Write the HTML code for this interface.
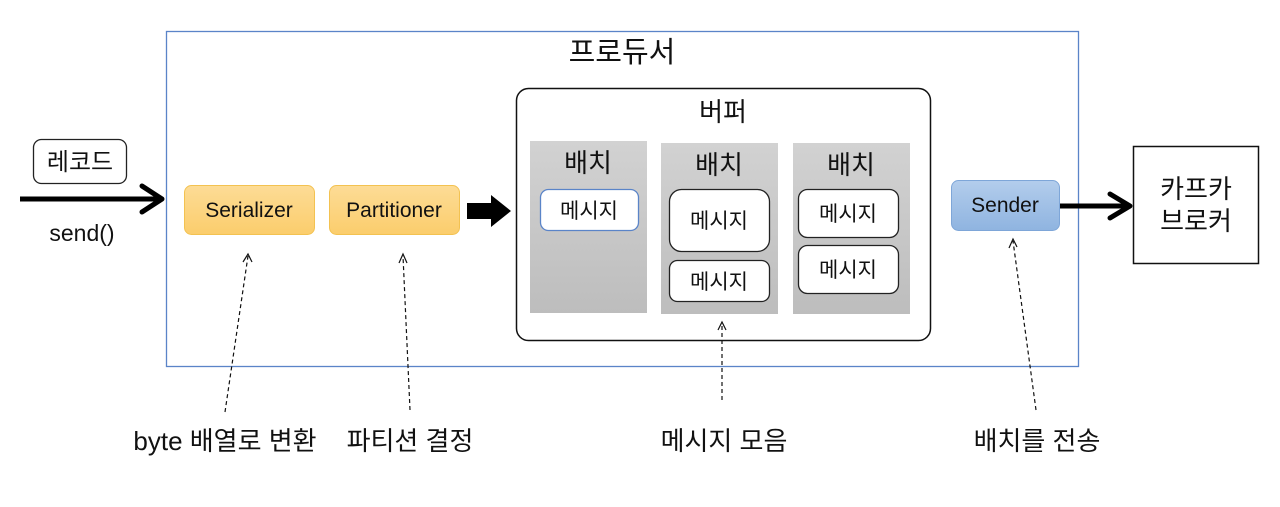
<!DOCTYPE html>
<html><head><meta charset="utf-8"><style>
html,body{margin:0;padding:0;background:#fff;width:1280px;height:507px;overflow:hidden}
text{font-family:"Liberation Sans","Noto Sans CJK KR",sans-serif;fill:#111}
</style></head><body>
<svg width="1280" height="507" viewBox="0 0 1280 507" xmlns="http://www.w3.org/2000/svg">
<defs>
<linearGradient id="yel" x1="0" y1="0" x2="0" y2="1"><stop offset="0" stop-color="#fddc96"/><stop offset="1" stop-color="#fbcd6c"/></linearGradient>
<linearGradient id="blu" x1="0" y1="0" x2="0" y2="1"><stop offset="0" stop-color="#b3cdec"/><stop offset="1" stop-color="#8fb4e0"/></linearGradient>
<linearGradient id="gry" x1="0" y1="0" x2="0" y2="1"><stop offset="0" stop-color="#d2d2d2"/><stop offset="1" stop-color="#bdbdbd"/></linearGradient>
</defs>
<rect x="166.5" y="31.5" width="912" height="335" fill="none" stroke="#5a84c8" stroke-width="1.3"/>
<text x="622" y="62" font-size="29" text-anchor="middle">프로듀서</text>

<rect x="33.5" y="139.5" width="93" height="44" rx="8" fill="#fff" stroke="#222" stroke-width="1.3"/>
<text x="80" y="170" font-size="24" text-anchor="middle">레코드</text>
<line x1="20" y1="199" x2="160" y2="199" stroke="#000" stroke-width="5"/>
<polyline points="142,186 162,199 142,212" fill="none" stroke="#000" stroke-width="5" stroke-linecap="round" stroke-linejoin="round"/>
<text x="82" y="241" font-size="23" text-anchor="middle">send()</text>

<rect x="184.5" y="185.5" width="130" height="49" rx="7" fill="url(#yel)" stroke="#f3c251"/>
<text x="249" y="217" font-size="21" text-anchor="middle">Serializer</text>
<rect x="329.5" y="185.5" width="130" height="49" rx="7" fill="url(#yel)" stroke="#f3c251"/>
<text x="394" y="217" font-size="21" text-anchor="middle">Partitioner</text>
<polygon points="467,203 491,203 491,195 511,211 491,227 491,219 467,219" fill="#000"/>

<rect x="516.5" y="88.5" width="414" height="252" rx="12" fill="#fff" stroke="#111" stroke-width="1.5"/>
<text x="723" y="121" font-size="26" text-anchor="middle">버퍼</text>

<rect x="530" y="141" width="117" height="172" fill="url(#gry)"/>
<text x="588" y="172" font-size="26" text-anchor="middle">배치</text>
<rect x="540.5" y="189.5" width="98" height="41" rx="8" fill="#fff" stroke="#5a84c8" stroke-width="1.3"/>
<text x="589" y="218" font-size="21" text-anchor="middle">메시지</text>

<rect x="661" y="143" width="117" height="171" fill="url(#gry)"/>
<text x="719" y="174" font-size="26" text-anchor="middle">배치</text>
<rect x="669.5" y="189.5" width="100" height="62" rx="12" fill="#fff" stroke="#222" stroke-width="1.3"/>
<text x="719" y="228" font-size="21" text-anchor="middle">메시지</text>
<rect x="669.5" y="260.5" width="100" height="41" rx="8" fill="#fff" stroke="#222" stroke-width="1.3"/>
<text x="719" y="289" font-size="21" text-anchor="middle">메시지</text>

<rect x="793" y="143" width="117" height="171" fill="url(#gry)"/>
<text x="851" y="174" font-size="26" text-anchor="middle">배치</text>
<rect x="798.5" y="189.5" width="100" height="48" rx="9" fill="#fff" stroke="#222" stroke-width="1.3"/>
<text x="848" y="221" font-size="21" text-anchor="middle">메시지</text>
<rect x="798.5" y="245.5" width="100" height="48" rx="9" fill="#fff" stroke="#222" stroke-width="1.3"/>
<text x="848" y="277" font-size="21" text-anchor="middle">메시지</text>

<rect x="951.5" y="180.5" width="108" height="50" rx="7" fill="url(#blu)" stroke="#7ea6d8"/>
<text x="1005" y="212" font-size="21" text-anchor="middle">Sender</text>
<line x1="1060" y1="206" x2="1128" y2="206" stroke="#000" stroke-width="5"/>
<polyline points="1110,194 1130,206 1110,218" fill="none" stroke="#000" stroke-width="5" stroke-linecap="round" stroke-linejoin="round"/>

<rect x="1133.5" y="146.5" width="125" height="117" fill="#fff" stroke="#111" stroke-width="1.5"/>
<text x="1196" y="198" font-size="26" text-anchor="middle">카프카</text>
<text x="1196" y="230" font-size="26" text-anchor="middle">브로커</text>

<g stroke="#111" stroke-width="1.2" fill="none">
<line x1="225" y1="412" x2="248" y2="256" stroke-dasharray="4,3"/>
<polyline points="243,262 248,254 252,262"/>
<line x1="410" y1="410" x2="403" y2="256" stroke-dasharray="4,3"/>
<polyline points="399,263 403,254 407,263"/>
<line x1="722" y1="400" x2="722" y2="323" stroke-dasharray="4,3"/>
<polyline points="718,330 722,322 726,330"/>
<line x1="1036" y1="410" x2="1013" y2="241" stroke-dasharray="4,3"/>
<polyline points="1009,248 1013,239 1017,247"/>
</g>

<text x="225" y="450" font-size="26" text-anchor="middle">byte 배열로 변환</text>
<text x="410" y="450" font-size="26" text-anchor="middle">파티션 결정</text>
<text x="724" y="450" font-size="26" text-anchor="middle">메시지 모음</text>
<text x="1037" y="450" font-size="26" text-anchor="middle">배치를 전송</text>
</svg>
</body></html>
